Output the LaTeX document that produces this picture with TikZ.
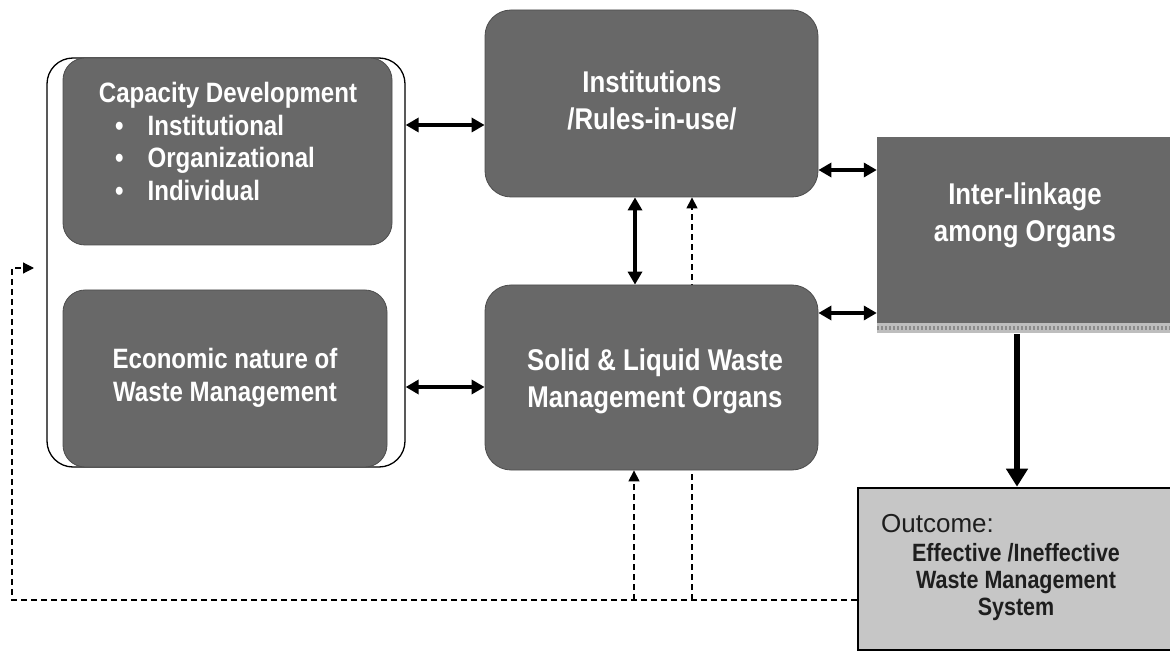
\documentclass[tikz,border=0pt]{standalone}
\usepackage{fontspec}
\setmainfont{Liberation Sans}[FakeStretch=0.86]
\newfontfamily\widesans{Liberation Sans}
\usetikzlibrary{arrows.meta,backgrounds}
\definecolor{boxgray}{RGB}{104,104,104}
\definecolor{outgray}{RGB}{198,198,198}
\definecolor{bandgray}{RGB}{190,190,190}
\definecolor{banddot}{RGB}{140,140,140}
\definecolor{outtext}{RGB}{30,30,30}
\tikzset{
  darkbox/.style={draw=black!70, line width=0.8pt, fill=boxgray, rounded corners=22pt, inner sep=0pt},
  sqbox/.style={fill=boxgray, inner sep=0pt},
  outbox/.style={draw=black, line width=2.6pt, fill=outgray, inner sep=0pt},
  wtxt/.style={text=white, font=\fontsize{30}{37}\selectfont\bfseries, align=center, inner sep=0pt},
  wtxts/.style={text=white, font=\fontsize{28}{33}\selectfont\bfseries, align=center, inner sep=0pt},
  otxt/.style={text=outtext, font=\fontsize{25}{27}\selectfont\bfseries, align=center, inner sep=0pt},
  dbl/.style={line width=3.6pt, {Triangle[length=13pt,width=14pt]}-{Triangle[length=13pt,width=14pt]}},
  bigarrow/.style={line width=5.5pt, -{Triangle[length=18pt,width=21pt]}},
  dsh/.style={line width=1.2pt, dash pattern=on 6pt off 4pt},
  dsharrow/.style={dsh, -{Triangle[length=11pt,width=11pt]}},
}
\begin{document}
\begin{tikzpicture}[x=1pt,y=-1pt]
\useasboundingbox (0,0) rectangle (1170,652);
% bracket outline behind left boxes
\node[draw=black, line width=1.3pt, rounded corners=26pt, minimum width=358pt, minimum height=409pt, inner sep=0pt] (bracket) at (226,262.5) {};
% boxes
\node[darkbox, minimum width=329pt, minimum height=187pt] (cap) at (227.5,151.5) {};
\node[darkbox, minimum width=324pt, minimum height=177pt] (econ) at (225,378.5) {};
\node[darkbox, rounded corners=26pt, minimum width=333pt, minimum height=187pt] (inst) at (651.5,103.5) {};
\node[darkbox, rounded corners=26pt, minimum width=333pt, minimum height=185pt] (solid) at (651.5,377.5) {};
\node[sqbox, minimum width=296pt, minimum height=191pt] (inter) at (1025,232.5) {};
\fill[bandgray] (877,323) rectangle (1173,333);
\draw[banddot, line width=4pt, dash pattern=on 2pt off 2pt] (877,328) -- (1173,328);
\node[outbox, minimum width=318pt, minimum height=162pt] (outc) at (1017,569) {};
% texts
\node[wtxts, anchor=base] (capT) at (228,103) {Capacity Development};
\node[wtxts, anchor=base west] (cap1) at (115,136) {\textbullet\hspace{24pt}Institutional};
\node[wtxts, anchor=base west] (cap2) at (115,168) {\textbullet\hspace{24pt}Organizational};
\node[wtxts, anchor=base west] (cap3) at (115,201) {\textbullet\hspace{24pt}Individual};
\node[wtxts] (econT) at (225,378) {Economic nature of\\Waste Management};
\node[wtxt] (instT) at (652,100) {Institutions\\/Rules-in-use/};
\node[wtxt] (solidT) at (655,381) {Solid \& Liquid Waste\\Management Organs};
\node[wtxt] (interT) at (1025,215) {Inter-linkage\\among Organs};
\node[text=outtext, font=\widesans\fontsize{26}{30}\selectfont, anchor=base west, inner sep=0pt] (outT) at (881,532) {Outcome:};
\node[otxt] (outB) at (1016,582) {Effective /Ineffective\\Waste Management\\System};
% connectors
\draw[dbl] (bracket.east |- 0,125) -- (inst.west |- 0,125);
\draw[dbl] (bracket.east |- 0,387) -- (solid.west |- 0,387);
\draw[dbl] (inst.south -| 635,0) -- (solid.north -| 635,0);
\draw[dbl] (inst.east |- 0,170) -- (inter.west |- 0,170);
\draw[dbl] (solid.east |- 0,313) -- (inter.west |- 0,313);
\draw[bigarrow] (inter.south -| 1017,0) ++(0,6) -- (outc.north -| 1017,0);
% feedback dashed lines
\coordinate (fbL) at (12,600);
\coordinate (fbTip) at (34,268);
\coordinate (b1) at (634,600);
\coordinate (b2) at (692,600);
\draw[dsharrow] (outc.west |- fbL) -- (fbL) |- (fbTip);
\draw[dsharrow] (b1) -- (solid.south -| b1);
\begin{scope}[on background layer]
\draw[dsharrow] (b2) -- (inst.south -| b2);
\end{scope}
\end{tikzpicture}
\end{document}
